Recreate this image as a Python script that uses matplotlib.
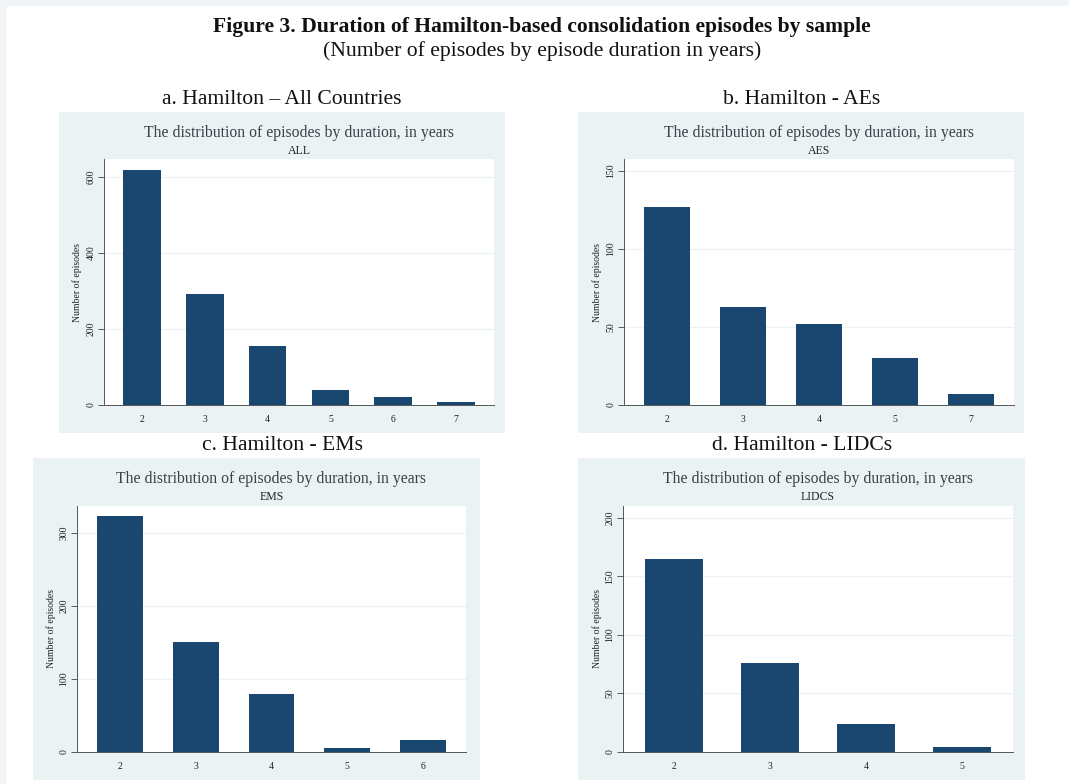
import matplotlib.pyplot as plt
from matplotlib.patches import Rectangle

# Episode counts by duration (years), one set per country group
durations_all = [2, 3, 4, 5, 6, 7]
episodes_all = [618, 291, 155, 39, 22, 7]

durations_aes = [2, 3, 4, 5, 7]
episodes_aes = [127, 63, 52, 30, 7]

durations_ems = [2, 3, 4, 5, 6]
episodes_ems = [323, 151, 79, 5, 17]

durations_lidcs = [2, 3, 4, 5]
episodes_lidcs = [165, 76, 24, 4]

yticks_all = [0, 200, 400, 600]
yticks_aes = [0, 50, 100, 150]
yticks_ems = [0, 100, 200, 300]
yticks_lidcs = [0, 50, 100, 150, 200]

panel_titles = ['a. Hamilton \u2013 All Countries', 'b. Hamilton - AEs',
                'c. Hamilton - EMs', 'd. Hamilton - LIDCs']
sample_labels = ['ALL', 'AES', 'EMS', 'LIDCS']

W, H = 1069, 784
NAVY = '#1a476f'
BLUISH = '#eaf2f3'
SERIF = ['Liberation Serif', 'DejaVu Serif']

plt.rcParams['font.family'] = SERIF


def fig_rect(x0, y0, x1, y1):
    # pixel box (top-left origin) -> figure fraction [left, bottom, width, height]
    return [x0 / W, 1 - y1 / H, (x1 - x0) / W, (y1 - y0) / H]


def add_box(fig, x0, y0, x1, y1, color, z):
    fig.patches.append(Rectangle((x0 / W, 1 - y1 / H), (x1 - x0) / W, (y1 - y0) / H,
                                 transform=fig.transFigure, facecolor=color, edgecolor='none', zorder=z))


def draw_panel(fig, title, title_x, label, durations, episodes, yticks, ytop, graph_box, plot_box, margin):
    gx0, gy0, gx1, gy1 = graph_box
    px0, py0, px1, py1 = plot_box
    add_box(fig, gx0, gy0, gx1, gy1, BLUISH, -5)
    fig.text(title_x / W, 1 - (gy0 - 12) / H, title, ha='center', va='center', fontsize=15.6, color='#111111')
    cx = (px0 + px1) / 2
    fig.text(cx / W, 1 - (gy0 + 21) / H, 'The distribution of episodes by duration, in years',
             ha='center', va='center', fontsize=11.3, color='#3a3f48')
    fig.text(cx / W, 1 - (gy0 + 39) / H, label, ha='center', va='center', fontsize=8.5, color='#222222')

    ax = fig.add_axes(fig_rect(*plot_box))
    x = list(range(len(durations)))
    ax.bar(x, episodes, width=0.6, color=NAVY, zorder=3)
    ax.set_xlim(-margin, len(durations) - 1 + margin)
    ax.set_ylim(0, ytop)
    ax.set_xticks(x)
    ax.set_xticklabels([str(d) for d in durations])
    ax.set_yticks(yticks)
    ax.set_yticklabels([str(t) for t in yticks], rotation=90, va='center')
    ax.tick_params(axis='x', length=0, pad=7, labelsize=7, colors='#222222')
    ax.tick_params(axis='y', length=4, width=0.6, pad=2, labelsize=7, colors='#444444', labelcolor='#222222')
    ax.set_ylabel('Number of episodes', fontsize=7, labelpad=3, color='#222222')
    for t in yticks[1:]:
        ax.axhline(t, color=BLUISH, linewidth=0.9, zorder=1)
    ax.spines['top'].set_visible(False)
    ax.spines['right'].set_visible(False)
    ax.spines['left'].set_color('#555555')
    ax.spines['bottom'].set_color('#555555')
    ax.spines['left'].set_linewidth(0.7)
    ax.spines['bottom'].set_linewidth(0.7)
    ax.set_facecolor('white')
    return ax


fig = plt.figure(figsize=(W / 100, H / 100), dpi=100)
fig.patch.set_facecolor('#f1f5f8')
add_box(fig, 7, 6, W, H, 'white', -10)

fig.text(542 / W, 1 - 27 / H, 'Figure 3. Duration of Hamilton-based consolidation episodes by sample',
         ha='center', va='center', fontsize=15.6, fontweight='bold', color='#111111')
fig.text(542 / W, 1 - 51 / H, '(Number of episodes by episode duration in years)',
         ha='center', va='center', fontsize=15.6, color='#111111')

draw_panel(fig, panel_titles[0], 282, sample_labels[0], durations_all, episodes_all, yticks_all, 647,
           (59, 112, 505, 433), (104, 159, 494, 405), 0.6)
draw_panel(fig, panel_titles[1], 802, sample_labels[1], durations_aes, episodes_aes, yticks_aes, 157.5,
           (578, 112, 1024, 433), (624, 159, 1014, 405), 0.57)
draw_panel(fig, panel_titles[2], 283, sample_labels[2], durations_ems, episodes_ems, yticks_ems, 337,
           (33, 458, 480, 780), (77, 506, 466, 752), 0.57)
draw_panel(fig, panel_titles[3], 802, sample_labels[3], durations_lidcs, episodes_lidcs, yticks_lidcs, 210,
           (578, 458, 1025, 780), (623, 506, 1013, 752), 0.53)

fig.savefig('out.png', dpi=100)
